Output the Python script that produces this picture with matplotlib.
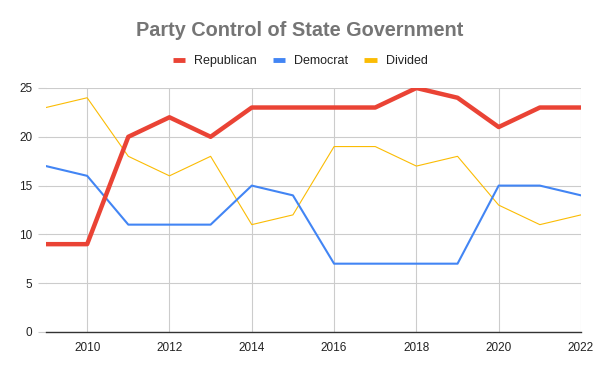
import matplotlib
matplotlib.use("Agg")
import matplotlib.pyplot as plt
from matplotlib.lines import Line2D

years = [2009, 2010, 2011, 2012, 2013, 2014, 2015, 2016, 2017, 2018, 2019, 2020, 2021, 2022]
republican = [9, 9, 20, 22, 20, 23, 23, 23, 23, 25, 24, 21, 23, 23]
democrat = [17, 16, 11, 11, 11, 15, 14, 7, 7, 7, 7, 15, 15, 14]
divided = [23, 24, 18, 16, 18, 11, 12, 19, 19, 17, 18, 13, 11, 12]
series_names = ["Republican", "Democrat", "Divided"]
x_ticks = [2010, 2012, 2014, 2016, 2018, 2020, 2022]
y_ticks = [0, 5, 10, 15, 20, 25]

plt.rcParams['font.family'] = ['Liberation Sans', 'DejaVu Sans']

fig = plt.figure(figsize=(6, 3.71), dpi=100)
ax = fig.add_axes([46/600, 1-332/371, (581-46)/600, (332-88)/371])

colors = ["#ea4335", "#4285f4", "#fbbc04"]
widths = [3.2, 1.5, 0.8]
ax.plot(years, divided, color=colors[2], lw=widths[2], zorder=3)
ax.plot(years, democrat, color=colors[1], lw=widths[1], zorder=4)
ax.plot(years, republican, color=colors[0], lw=widths[0], zorder=5, solid_capstyle='butt')

ax.set_xlim(2009, 2022)
ax.set_ylim(0, 25)
ax.set_xticks(x_ticks)
ax.set_yticks(y_ticks)
ax.grid(True, color="#cccccc", lw=0.8)
ax.set_axisbelow(True)
for s in ["top", "right", "left"]:
    ax.spines[s].set_visible(False)
ax.spines["bottom"].set_color("#333333")
ax.spines["bottom"].set_linewidth(1.0)
ax.spines["bottom"].set_zorder(6)
ax.tick_params(axis='y', length=6, color="#cccccc", width=0.8, labelsize=8.5, labelcolor="#222222", pad=4)
ax.tick_params(axis='x', length=0, labelsize=8.5, labelcolor="#222222", pad=7)

fig.text(0.5, 1-30/371, "Party Control of State Government", ha='center', va='center',
         fontsize=14.3, fontweight='bold', color="#757575")

handles = [Line2D([0], [0], color=c, lw=3.5, solid_capstyle='butt') for c in colors]
fig.legend(handles, series_names, loc='center', bbox_to_anchor=(0.5, 1-61/371), ncol=3,
           frameon=False, fontsize=9, handlelength=1.0, handletextpad=0.7, columnspacing=1.3,
           labelcolor="#222222")

fig.savefig("out.png", dpi=100)
